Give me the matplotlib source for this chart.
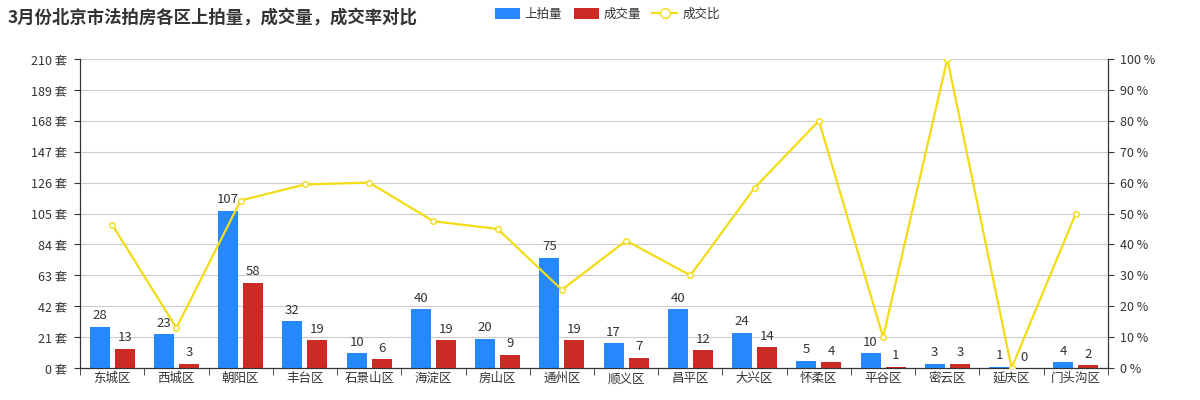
import matplotlib
matplotlib.use('Agg')
import matplotlib.pyplot as plt
import numpy as np
from matplotlib.patches import Patch
from matplotlib.lines import Line2D

plt.rcParams['font.family'] = ['Noto Sans CJK SC', 'DejaVu Sans']

# 数据
districts = ['东城区', '西城区', '朝阳区', '丰台区', '石景山区', '海淀区', '房山区', '通州区',
             '顺义区', '昌平区', '大兴区', '怀柔区', '平谷区', '密云区', '延庆区', '门头沟区']
listed = [28, 23, 107, 32, 10, 40, 20, 75, 17, 40, 24, 5, 10, 3, 1, 4]
sold = [13, 3, 58, 19, 6, 19, 9, 19, 7, 12, 14, 4, 1, 3, 0, 2]
ratio = [46.4, 13.0, 54.2, 59.4, 60.0, 47.5, 45.0, 25.3, 41.2, 30.0, 58.3, 80.0, 10.0, 100.0, 0.0, 50.0]
left_ticks = [0, 21, 42, 63, 84, 105, 126, 147, 168, 189, 210]
right_ticks = [0, 10, 20, 30, 40, 50, 60, 70, 80, 90, 100]

blue = '#2588fc'
red = '#cc2a24'
yellow = '#f3dc14'
txt = '#333333'

fig = plt.figure(figsize=(12, 4), dpi=100)
ax = fig.add_axes([0.0667, 0.08, 0.8566, 0.7725])
ax2 = ax.twinx()

x = np.arange(len(districts))
w = 0.31
off = 0.195
ax.bar(x - off, listed, w, color=blue, zorder=3)
ax.bar(x + off, sold, w, color=red, zorder=3)
for xi, v in zip(x, listed):
    ax.text(xi - off, v + 3, str(v), ha='center', va='bottom', fontsize=9.5, color=txt)
for xi, v in zip(x, sold):
    ax.text(xi + off, v + 3, str(v), ha='center', va='bottom', fontsize=9.5, color=txt)

ax.set_xlim(-0.5, len(districts) - 0.5)
ax.set_ylim(0, 210)
ax.set_yticks(left_ticks)
ax.set_yticklabels([f'{t} 套' for t in left_ticks], fontsize=9, color=txt)
ax.grid(axis='y', color='#cccccc', linewidth=0.8, zorder=0)
ax.set_axisbelow(True)

ax.set_xticks(x)
ax.set_xticklabels(districts, fontsize=9, color=txt)
ax.set_xticks(np.arange(-0.5, len(districts), 1), minor=True)
ax.tick_params(axis='x', which='major', length=0, pad=3)
ax.tick_params(axis='x', which='minor', length=5, color='#333333')
ax.tick_params(axis='y', length=4, color='#333333', pad=5)

ax2.plot(x, ratio, color=yellow, linewidth=1.6, marker='o', markersize=4,
         markerfacecolor='white', markeredgecolor=yellow, markeredgewidth=1, zorder=5)
ax2.set_ylim(0, 100)
ax2.set_yticks(right_ticks)
ax2.set_yticklabels([f'{t} %' for t in right_ticks], fontsize=9, color=txt)
ax2.tick_params(axis='y', length=4, color='#333333', pad=5)

for a in (ax, ax2):
    a.spines['top'].set_visible(False)
    for s in ('left', 'right', 'bottom'):
        a.spines[s].set_color('#333333')

fig.text(0.006, 0.955, '3月份北京市法拍房各区上拍量，成交量，成交率对比', fontsize=12.5,
         fontweight='bold', color='#333333', va='center', ha='left')

handles = [Patch(facecolor=blue, label='上拍量'),
           Patch(facecolor=red, label='成交量'),
           Line2D([0], [0], color=yellow, marker='o', markerfacecolor='white',
                  markeredgecolor=yellow, markersize=7, label='成交比')]
fig.legend(handles=handles, loc='center left', bbox_to_anchor=(0.403, 0.965), ncol=3,
           frameon=False, fontsize=9, handlelength=2.0, handleheight=1.0,
           columnspacing=0.9, handletextpad=0.4, labelcolor=txt)

fig.savefig('out.png', dpi=100, facecolor='white')
